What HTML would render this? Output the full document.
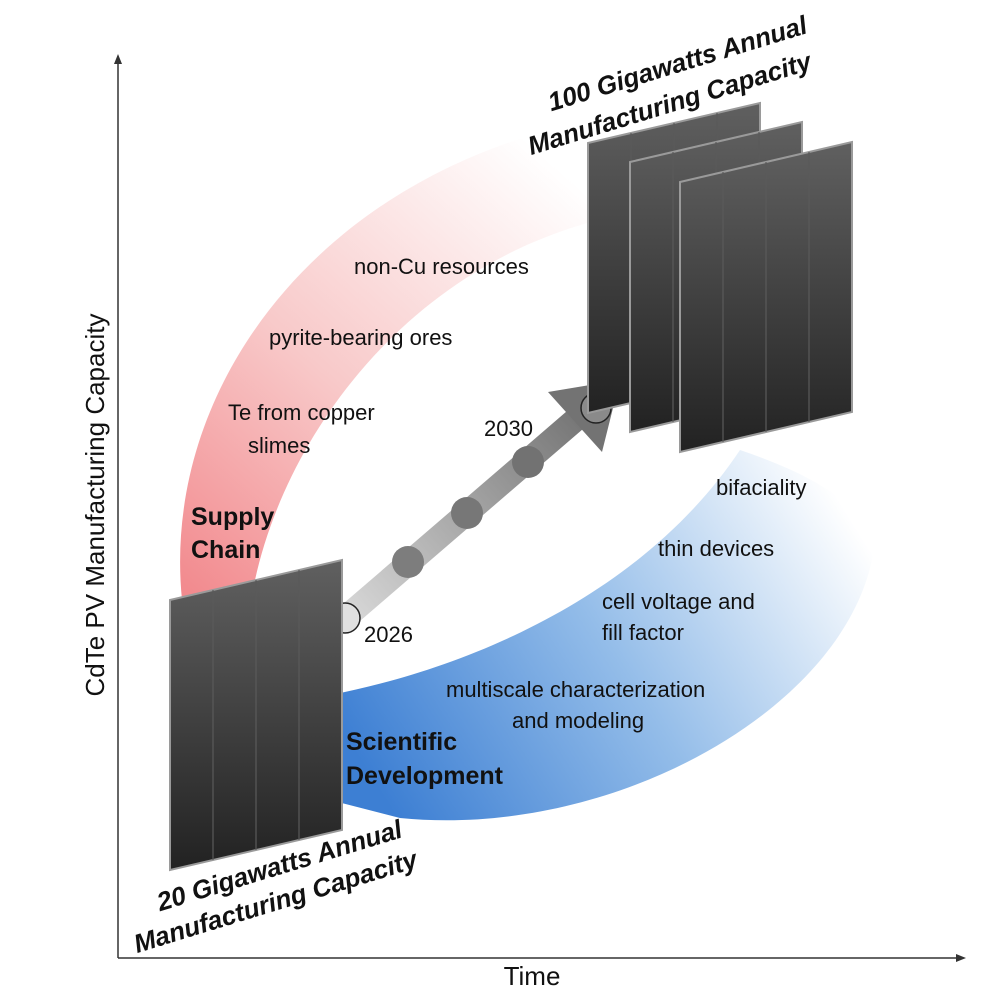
<!DOCTYPE html>
<html><head><meta charset="utf-8"><style>
html,body{margin:0;padding:0;background:#fff}
svg{display:block}
text{font-family:"Liberation Sans",Arial,sans-serif;fill:#111}
</style></head><body>
<svg width="996" height="996" viewBox="0 0 996 996" xmlns="http://www.w3.org/2000/svg">
<defs>
<linearGradient id="red" x1="190" y1="590" x2="560" y2="170" gradientUnits="userSpaceOnUse">
<stop offset="0" stop-color="#f28b8f"/><stop offset="0.45" stop-color="#f8c9c9"/><stop offset="1" stop-color="#ffffff"/></linearGradient>
<linearGradient id="blue" x1="360" y1="760" x2="820" y2="470" gradientUnits="userSpaceOnUse">
<stop offset="0" stop-color="#3d7fd3"/><stop offset="0.5" stop-color="#94bde9"/><stop offset="1" stop-color="#ffffff"/></linearGradient>
<linearGradient id="panel" x1="0" y1="0" x2="0" y2="1">
<stop offset="0" stop-color="#606060"/><stop offset="1" stop-color="#222"/></linearGradient>
<linearGradient id="arr" x1="345" y1="615" x2="590" y2="400" gradientUnits="userSpaceOnUse">
<stop offset="0" stop-color="#d8d8d8"/><stop offset="1" stop-color="#707070"/></linearGradient>
<g id="pnl">
<path d="M0,40 L172,0 L172,270 L0,310 Z" fill="url(#panel)" stroke="#9a9a9a" stroke-width="2"/>
<g stroke="#5a5a5a" stroke-width="1.2"><line x1="43" y1="30" x2="43" y2="300"/><line x1="86" y1="20" x2="86" y2="290"/><line x1="129" y1="10" x2="129" y2="280"/></g>
</g>
</defs>
<path d="M182,600 C160,380 330,160 620,115 L650,210 C430,240 290,420 255,580 Z" fill="url(#red)"/>
<path d="M330,695 C460,670 640,600 740,450 C800,470 860,500 875,540 C860,700 620,840 400,818 L330,800 Z" fill="url(#blue)"/>
<g stroke="#333" stroke-width="1.5" fill="none">
<line x1="118" y1="958" x2="118" y2="58"/><line x1="118" y1="958" x2="962" y2="958"/></g>
<path d="M114,64 L118,54 L122,64 Z" fill="#333"/><path d="M956,954 L966,958 L956,962 Z" fill="#333"/>
<line x1="345" y1="618" x2="575" y2="420" stroke="url(#arr)" stroke-width="24"/>
<path d="M548,392 L620,380 L602,452 Z" fill="#737373"/>
<circle cx="408" cy="562" r="16" fill="#7d7d7d"/><circle cx="467" cy="513" r="16" fill="#777"/><circle cx="528" cy="462" r="16" fill="#727272"/>
<circle cx="345" cy="618" r="15" fill="#e0e0e0" stroke="#222" stroke-width="1.5"/>
<circle cx="596" cy="408" r="15" fill="#8a8a8a" stroke="#222" stroke-width="1.5"/>
<use href="#pnl" x="588" y="103"/>
<use href="#pnl" x="630" y="122"/>
<use href="#pnl" x="680" y="142"/>
<use href="#pnl" x="170" y="560"/>
<g font-size="22">
<text x="354" y="274">non-Cu resources</text>
<text x="269" y="345">pyrite-bearing ores</text>
<text x="228" y="420">Te from copper</text>
<text x="248" y="453">slimes</text>
<text x="484" y="436">2030</text>
<text x="364" y="642">2026</text>
<text x="716" y="495">bifaciality</text>
<text x="658" y="556">thin devices</text>
<text x="602" y="609">cell voltage and</text>
<text x="602" y="640">fill factor</text>
<text x="446" y="697">multiscale characterization</text>
<text x="512" y="728">and modeling</text>
</g>
<g font-size="25" font-weight="bold">
<text x="191" y="525">Supply</text><text x="191" y="558">Chain</text>
<text x="346" y="750">Scientific</text><text x="346" y="784">Development</text>
</g>
<g font-size="26" font-weight="bold" font-style="italic" text-anchor="middle">
<text transform="translate(680,72) rotate(-17)">100 Gigawatts Annual</text>
<text transform="translate(672,112) rotate(-17)">Manufacturing Capacity</text>
<text transform="translate(282,874) rotate(-17)">20 Gigawatts Annual</text>
<text transform="translate(278,910) rotate(-17)">Manufacturing Capacity</text>
</g>
<text transform="translate(104,505) rotate(-90)" font-size="26" text-anchor="middle">CdTe PV Manufacturing Capacity</text>
<text x="532" y="985" font-size="26" text-anchor="middle">Time</text>
</svg>
</body></html>
